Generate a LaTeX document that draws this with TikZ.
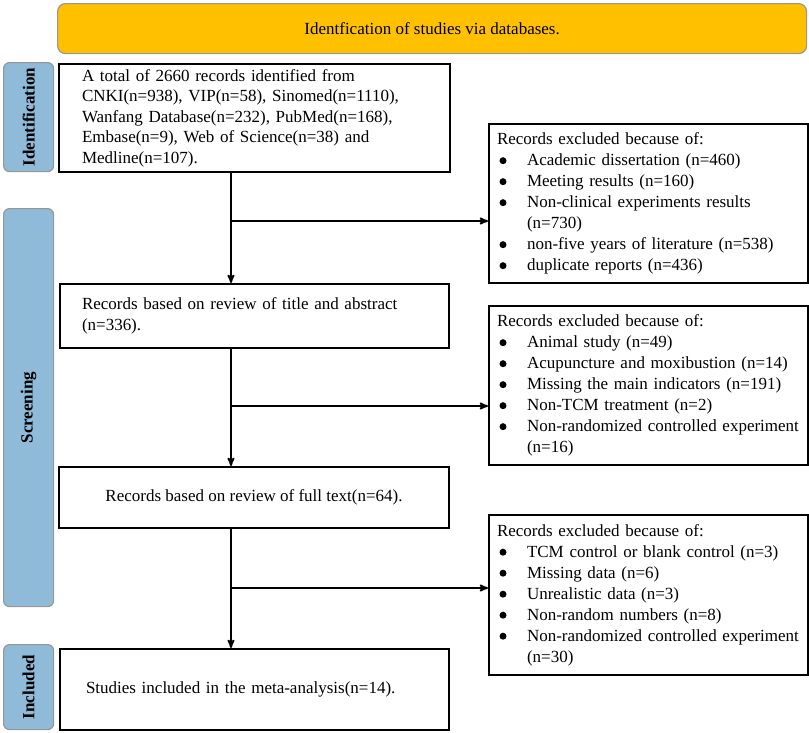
\documentclass[tikz,border=0pt]{standalone}
\usepackage{fontspec}
\setmainfont{Liberation Serif}
\usetikzlibrary{arrows,positioning}

\definecolor{bannergold}{RGB}{255,192,0}
\definecolor{sideblue}{RGB}{143,186,216}
\definecolor{sidegray}{RGB}{150,150,150}

\newcommand{\Bul}{\makebox[30pt][l]{\hspace{2.5pt}\tikz[baseline=-5pt]\fill (0,0) circle [radius=3.5pt];}}

\begin{document}
\begin{tikzpicture}[x=1pt,y=-1pt]
		\tikzstyle{BoxStyle}  = [draw, line width=2pt, rectangle, anchor=north west, inner ysep=0pt, align=left, font=\fontsize{17}{21}\selectfont]
		\tikzstyle{SideStyle} = [draw=sidegray, line width=1.2pt, fill=sideblue, rounded corners=6pt, anchor=north west, inner sep=0pt, font=\fontsize{17}{21}\selectfont\bfseries]
		\tikzstyle{EdgeStyle} = [line width=1.8pt, ->, >=stealth']
		\useasboundingbox (0,0) rectangle (809,732);

		% title banner
		\node[draw=sidegray, line width=1.2pt, fill=bannergold, rounded corners=8pt, anchor=north west, minimum width=749pt, minimum height=50pt, font=\fontsize{17}{21}\selectfont] (Banner) at (57,3) {Identfication of studies via databases.};

		% stage bars
		\node[SideStyle, minimum width=50pt, minimum height=109pt] (Identification) at (3,62) {\rotatebox{90}{Identification}};
		\node[SideStyle, minimum width=50pt, minimum height=398pt] (Screening) at (3,208) {\rotatebox{90}{Screening}};
		\node[SideStyle, minimum width=50pt, minimum height=85pt] (Included) at (3,644) {\rotatebox{90}{Included}};

		% main boxes
		\node[BoxStyle, minimum height=108pt, text width=345pt, inner xsep=23pt, font=\fontsize{17}{20.5}\selectfont] (Identified) at (58,63) {A total of 2660 records identified from\\ CNKI(n=938), VIP(n=58), Sinomed(n=1110),\\ Wanfang Database(n=232), PubMed(n=168),\\ Embase(n=9), Web of Science(n=38) and\\ Medline(n=107).};
		\node[BoxStyle, minimum height=64pt, text width=345pt, inner xsep=22pt] (Title Abstract) at (59,283) {Records based on review of title and abstract\\ (n=336).};
		\node[BoxStyle, minimum width=390pt, minimum height=61pt, align=center] (Full Text) at (58,466) {Records based on review of full text(n=64).};
		\node[BoxStyle, minimum height=81pt, text width=337pt, inner xsep=26pt] (Meta Analysis) at (59,648) {Studies included in the meta-analysis(n=14).};

		% exclusion boxes
		\node[BoxStyle, minimum height=159pt, text width=303pt, inner xsep=8pt] (Excluded Records) at (488,123) {Records excluded because of:\\
			\Bul Academic dissertation (n=460)\\
			\Bul Meeting results (n=160)\\
			\Bul Non-clinical experiments results\\
			\hspace*{30pt}(n=730)\\
			\Bul non-five years of literature (n=538)\\
			\Bul duplicate reports (n=436)};
		\node[BoxStyle, minimum height=159pt, text width=303pt, inner xsep=8pt] (Excluded Abstracts) at (488,305) {Records excluded because of:\\
			\Bul Animal study (n=49)\\
			\Bul Acupuncture and moxibustion (n=14)\\
			\Bul Missing the main indicators (n=191)\\
			\Bul Non-TCM treatment (n=2)\\
			\Bul Non-randomized controlled experiment\\
			\hspace*{30pt}(n=16)};
		\node[BoxStyle, minimum height=160pt, text width=303pt, inner xsep=8pt] (Excluded Full Texts) at (488,514) {Records excluded because of:\\
			\Bul TCM control or blank control (n=3)\\
			\Bul Missing data (n=6)\\
			\Bul Unrealistic data (n=3)\\
			\Bul Non-random numbers (n=8)\\
			\Bul Non-randomized controlled experiment\\
			\hspace*{30pt}(n=30)};

		% flow
		\coordinate (Spine) at (231,0);
		\coordinate (Split One) at (231,221);
		\coordinate (Split Two) at (231,406);
		\coordinate (Split Three) at (231,588);
		\draw[EdgeStyle] (Identified.south -| Spine)--(Title Abstract.north -| Spine);
		\draw[EdgeStyle] (Title Abstract.south -| Spine)--(Full Text.north -| Spine);
		\draw[EdgeStyle] (Full Text.south -| Spine)--(Meta Analysis.north -| Spine);
		\draw[EdgeStyle] (Split One)--(Split One -| Excluded Records.west);
		\draw[EdgeStyle] (Split Two)--(Split Two -| Excluded Abstracts.west);
		\draw[EdgeStyle] (Split Three)--(Split Three -| Excluded Full Texts.west);
	\end{tikzpicture}
\end{document}
